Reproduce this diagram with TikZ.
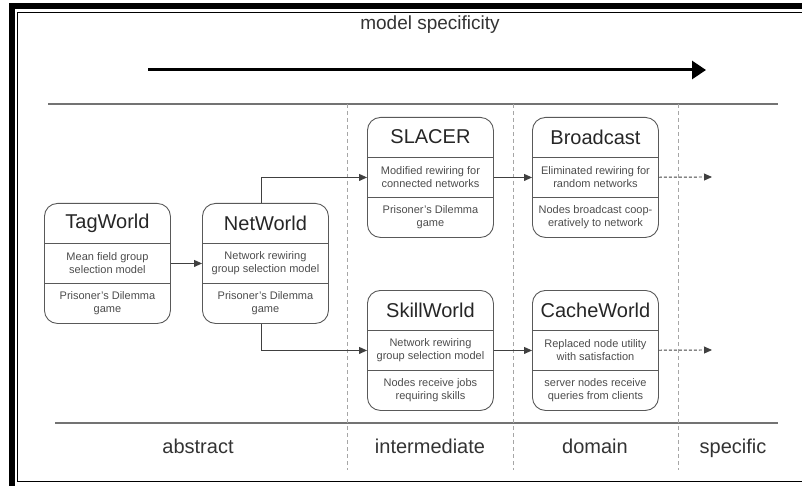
\documentclass[tikz,border=0pt]{standalone}
\usepackage{fontspec}
\setmainfont{Liberation Sans}
\usetikzlibrary{arrows.meta}
\usetikzlibrary{calc}
\tikzset{box/.style={draw=black!65, line width=0.9pt, rounded corners=13pt, minimum width=126pt, minimum height=120pt, inner sep=0pt, anchor=north west}}
\tikzset{t/.style={font=\fontsize{20}{20}\selectfont, text=black!85}}
\tikzset{s/.style={font=\fontsize{11}{12.7}\selectfont, text=black!70, align=center}}
\tikzset{lab/.style={font=\fontsize{20}{20}\selectfont, text=black!80, anchor=base}}
\tikzset{rule/.style={draw=black!55, line width=1.5pt}}
\tikzset{sep/.style={draw=black!35, line width=0.6pt, dash pattern=on 4pt off 3pt}}
\tikzset{link/.style={draw=black!75, line width=0.9pt, -{Triangle[length=8pt,width=7pt]}}}
\tikzset{dlink/.style={link, dash pattern=on 3pt off 2pt}}
\newcommand{\modelbox}[6]{%
  \node[box] (#1) at (#2,#3) {};
  \draw[black!65, line width=0.9pt] ($(#1.north west)+(0,40)$) -- ($(#1.north east)+(0,40)$);
  \draw[black!65, line width=0.9pt] ($(#1.north west)+(0,80)$) -- ($(#1.north east)+(0,80)$);
  \node[t] (#1-t) at ($(#1.north)+(0,20)$) {#4};
  \node[s] (#1-m) at ($(#1.north)+(0,60)$) {#5};
  \node[s] (#1-b) at ($(#1.north)+(0,100)$) {#6};
}
\begin{document}
\begin{tikzpicture}[x=1pt, y=-1pt]
        \useasboundingbox (0,0) rectangle (802,486);
        \clip (0,0) rectangle (802,486);
        % frame
        \draw[line width=6pt] (12,6) rectangle (830,489);
        \draw[line width=1.1pt] (17.5,12.5) rectangle (820,481.5);
        % header
        \node[lab, font=\fontsize{19}{19}\selectfont] (spec) at (430,30) {model specificity};
        \coordinate (a0) at (148,70);
        \coordinate (a1) at (706,70);
        \draw[line width=3pt, -{Triangle[length=14pt,width=18pt]}] (a0) -- (a1);
        \draw[rule] (48,104) -- (778,104);
        \draw[rule] (55,423) -- (778,423);
        \foreach \x in {347,513,678}
          \draw[sep] (\x,104) -- (\x,470);
        \node[lab] (abs) at (198,453) {abstract};
        \node[lab] (int) at (430,453) {intermediate};
        \node[lab] (dom) at (595,453) {domain};
        \node[lab] (spc) at (733,453) {specific};
        % models
        \modelbox{tag}{44}{203}{TagWorld}{Mean field group\\selection model}{Prisoner's Dilemma\\game}
        \modelbox{net}{202}{203}{NetWorld}{Network rewiring\\group selection model}{Prisoner's Dilemma\\game}
        \modelbox{slacer}{367}{117}{SLACER}{Modified rewiring for\\connected networks}{Prisoner's Dilemma\\game}
        \modelbox{bcast}{532}{117}{Broadcast}{Eliminated rewiring for\\random networks}{Nodes broadcast coop-\\eratively to network}
        \modelbox{skill}{367}{290}{SkillWorld}{Network rewiring\\group selection model}{Nodes receive jobs\\requiring skills}
        \modelbox{cache}{532}{290}{CacheWorld}{Replaced node utility\\with satisfaction}{server nodes receive\\queries from clients}
        \draw[link] (tag) -- (net);
        \draw[link] ([xshift=-4pt]net.north) |- (slacer.west);
        \draw[link] ([xshift=-4pt]net.south) |- (skill.west);
        \draw[link] (slacer) -- (bcast);
        \draw[link] (skill) -- (cache);
        \coordinate (bend) at (712,177);
        \coordinate (cend) at (712,350);
        \draw[dlink] (bcast) -- (bend);
        \draw[dlink] (cache) -- (cend);
      \end{tikzpicture}
\end{document}
